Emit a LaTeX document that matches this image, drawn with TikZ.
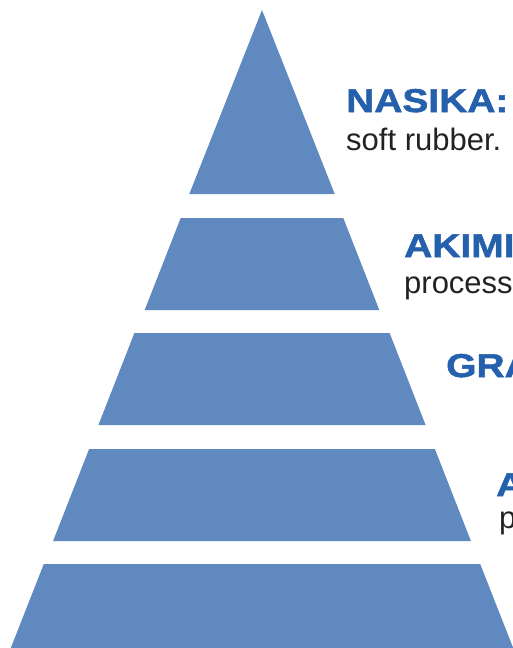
\documentclass[tikz,border=0pt]{standalone}
\usepackage{fontspec}
\setmainfont{Liberation Sans}
\newfontfamily\titlefont[FakeStretch=1.18,FakeBold=1.6]{Liberation Sans Bold}
\definecolor{layerblue}{HTML}{5F89BF}
\definecolor{titleblue}{HTML}{2460AB}
\definecolor{bodygray}{HTML}{222222}
\begin{document}
\begin{tikzpicture}[x=1pt,y=-1pt,
  layer/.style={fill=layerblue,draw=none},
  ttl/.style={anchor=base west,inner sep=0pt,text=titleblue,font=\titlefont\fontsize{33}{36}\selectfont},
  body/.style={anchor=base west,inner sep=0pt,text=bodygray,font=\fontsize{31}{34}\selectfont}]
\useasboundingbox (0,0) rectangle (513,648);
\clip (0,0) rectangle (513,648);
% layers
\path[layer] (262,10) -- (334.7,194) -- (189.3,194) -- cycle;
\path[layer] (180.7,218) -- (343.3,218) -- (379.3,310) -- (144.7,310) -- cycle;
\path[layer] (134.4,333) -- (389.6,333) -- (425.6,425) -- (98.4,425) -- cycle;
\path[layer] (89.1,449) -- (434.9,449) -- (470.9,541) -- (53.1,541) -- cycle;
\path[layer] (43.8,564) -- (480.2,564) -- (514,650) -- (10,650) -- cycle;
% texts
\node[ttl]  (t1) at (346,112) {NASIKA:};
\node[body] (b1) at (346,150) {soft rubber.};
\node[ttl]  (t2) at (404,257) {AKIMI};
\node[body] (b2) at (404,293) {process};
\node[ttl]  (t3) at (446,377) {GRA};
\node[ttl]  (t4) at (496,496) {A};
\node[body] (b4) at (499,528) {p};
\end{tikzpicture}
\end{document}
